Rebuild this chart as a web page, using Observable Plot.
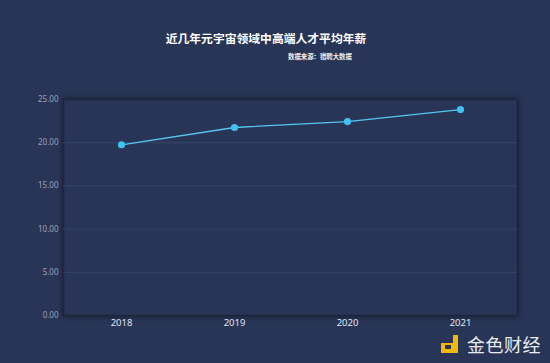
<!DOCTYPE html>
<html>
<head>
<meta charset="utf-8">
<script src="https://cdn.jsdelivr.net/npm/d3@7"></script>
<script src="https://cdn.jsdelivr.net/npm/@observablehq/plot@0.6"></script>
<style>
  html, body { margin: 0; padding: 0; }
  body { width: 550px; height: 363px; background: #283556; overflow: hidden; position: relative;
         font-family: "Noto Sans CJK SC", "Noto Sans", sans-serif; }
  #head { height: 72px; position: relative; }
  #title { position: absolute; left: 0; width: 532px; top: 29px; text-align: center; color: #ffffff;
           font-size: 11.8px; font-weight: bold; line-height: 18px; }
  #sub { position: absolute; left: 288px; top: 51px; color: #f0f0f0; font-size: 6.4px; font-weight: bold; line-height: 12px; }
  #wm { position: absolute; left: 441px; top: 333px; height: 22px; display: flex; align-items: center; }
  #logo { position: relative; width: 18px; height: 18px; margin-right: 8px; }
  #logo .a { position: absolute; left: 0; top: 8px; width: 14px; height: 10px; background: #f0b90b; }
  #logo .b { position: absolute; left: 12px; top: 0; width: 5px; height: 18px; background: #f0b90b; }
  #logo .c { position: absolute; left: 4px; top: 10px; width: 6px; height: 4px; background: #283556; }
  #wmt { color: #e9ebef; font-size: 18px; line-height: 22px; letter-spacing: 0.5px; }
</style>
</head>
<body>
<div id="head">
  <div id="title">近几年元宇宙领域中高端人才平均年薪</div>
  <div id="sub">数据来源：猎聘大数据</div>
</div>
<div id="chart"></div>
<div id="wm"><div id="logo"><div class="a"></div><div class="b"></div><div class="c"></div></div><div id="wmt">金色财经</div></div>
<script>
const years = ["2018", "2019", "2020", "2021"];
const salaries = [19.76, 21.76, 22.45, 23.84];
const yTicks = [0, 5, 10, 15, 20, 25];
const gridTicks = [5, 10, 15, 20];

const data = years.map((y, i) => ({year: y, value: salaries[i]}));

const chart = Plot.plot({
  width: 550,
  height: 291,
  marginTop: 27,
  marginBottom: 48,
  marginLeft: 63,
  marginRight: 33,
  style: {background: "transparent", overflow: "visible"},
  x: {type: "point", domain: years, padding: 0.5, label: null},
  y: {domain: [0, 25], label: null},
  marks: [
    Plot.frame({fill: "#283556", stroke: "#1d263f", strokeWidth: 1.5}),
    Plot.ruleY(gridTicks, {stroke: "#36446b", strokeWidth: 1}),
    Plot.axisY(yTicks, {tickSize: 0, tickPadding: 5, tickFormat: d => d.toFixed(2), fill: "#98a1b7", fontSize: 8, fontFamily: "Noto Sans, sans-serif"}),
    Plot.axisX(years, {tickSize: 0, tickPadding: 4, fill: "#e2e6ef", fontSize: 9.5, fontFamily: "Noto Sans, sans-serif"}),
    Plot.line(data, {x: "year", y: "value", stroke: "#56c8ee", strokeWidth: 1.3}),
    Plot.dot(data, {x: "year", y: "value", r: 3.6, fill: "#3ec2f0", stroke: "none"})
  ]
});
document.getElementById("chart").appendChild(chart);
d3.select(chart).select('g[aria-label="frame"] rect, rect[aria-label="frame"]')
  .style("filter", "drop-shadow(0px 0px 3px #151c30)");
</script>
</body>
</html>
